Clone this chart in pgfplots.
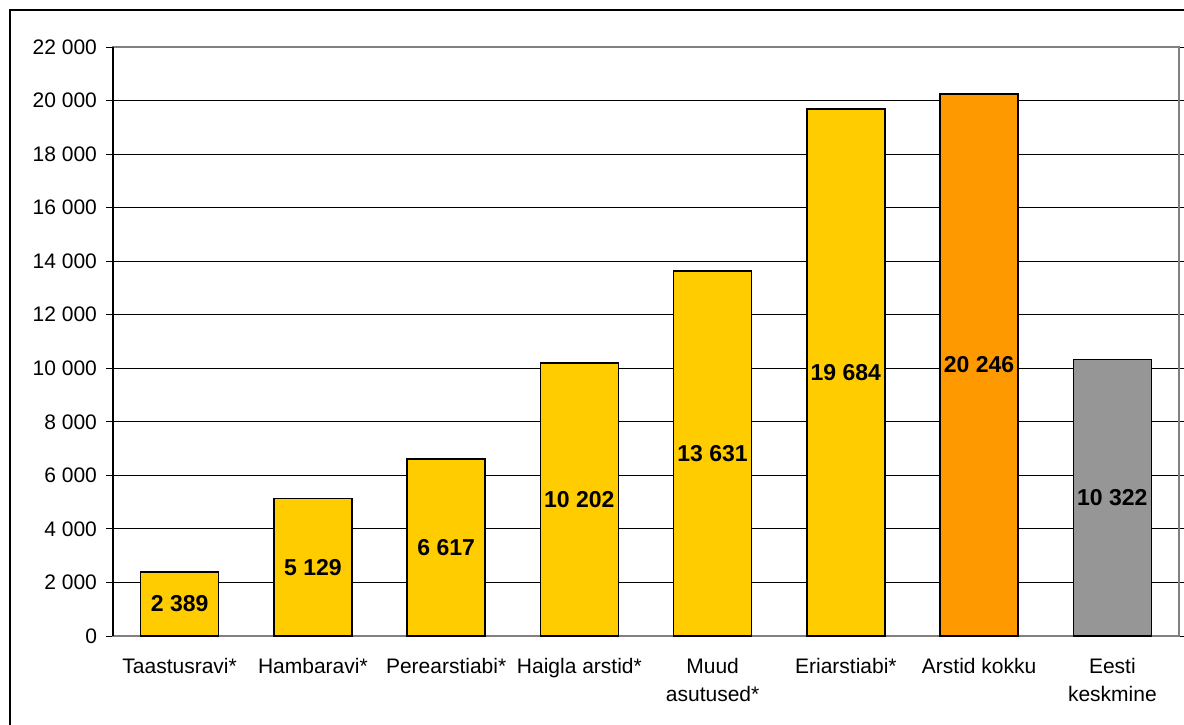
\documentclass[border=0pt]{standalone}
\usepackage{pgfplots}
\usepackage{pgfplotstable}
\pgfplotsset{compat=1.18}
\usepackage{fontspec}
\setmainfont{Liberation Sans}

\definecolor{barYellow}{HTML}{FFCC00}
\definecolor{barOrange}{HTML}{FF9900}
\definecolor{barGray}{HTML}{969696}
\definecolor{frameGray}{HTML}{808080}

% Arstide keskmine palk, Eesti keskmine
\pgfplotstableread{
x v
0 2389
1 5129
2 6617
3 10202
4 13631
5 19684
6 20246
7 10322
}\palgad

\begin{document}
\begin{tikzpicture}
\path[use as bounding box] (-56.5pt,-44pt) rectangle (535.5pt,318pt);
\draw[line width=1.1pt] (-51.5pt,-60pt) -- (-51.5pt,313pt) -- (560pt,313pt);
\begin{axis}[
    scale only axis,
    width=533pt, height=294.5pt,
    ybar, bar width=39pt,
    xmin=-0.5, xmax=7.5,
    ymin=0, ymax=22000,
    ytick distance=2000,
    ymajorgrids=true,
    grid style={black, line width=0.5pt},
    axis line style={frameGray, line width=0.6pt},
    tick align=outside,
    major tick length=3.5pt,
    minor tick length=3.5pt,
    ytick style={black, line width=0.5pt},
    xtick={0,...,7},
    xtick style={draw=none},
    minor xtick={-0.5,0.5,...,7.5},
    minor x tick style={frameGray, line width=0.6pt},
    xticklabels={Taastusravi*, Hambaravi*, Perearstiabi*, Haigla arstid*,
        Muud\\asutused*, Eriarstiabi*, Arstid kokku, Eesti\\keskmine},
    x tick label style={align=center, yshift=-4pt,
        font=\fontsize{10.5}{14}\selectfont},
    y tick label style={font=\fontsize{10.5}{12}\selectfont, xshift=-1pt},
    /pgf/number format/assume math mode=true,
    /pgf/number format/1000 sep={\ },
    scaled y ticks=false,
    clip=false,
]
\addplot[fill=barYellow, draw=black, line width=0.8pt, bar shift=0pt]
    coordinates {(0,2389) (1,5129) (2,6617) (3,10202) (4,13631) (5,19684)};
\addplot[fill=barOrange, draw=black, line width=0.8pt, bar shift=0pt]
    coordinates {(6,20246)};
\addplot[fill=barGray, draw=black, line width=0.8pt, bar shift=0pt]
    coordinates {(7,10322)};
\addplot[sharp plot, draw=none, mark=none,
    nodes near coords, point meta=explicit,
    nodes near coords style={anchor=center, font=\fontsize{11.5}{12}\selectfont\bfseries}]
    table[x=x, y expr=\thisrow{v}/2, meta=v] {\palgad};
\draw[frameGray, line width=0.8pt] (rel axis cs:0,1) -- (rel axis cs:1,1) -- (rel axis cs:1,0);
\draw[black, line width=0.6pt] (rel axis cs:0,0) -- (rel axis cs:0,1);
\end{axis}
\end{tikzpicture}
\end{document}
